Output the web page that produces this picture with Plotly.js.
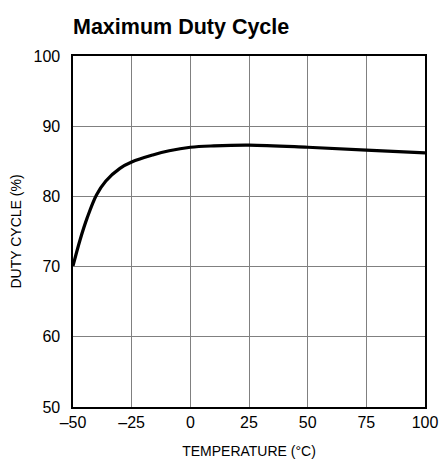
<!DOCTYPE html>
<html>
<head>
<meta charset="utf-8">
<script src="https://cdn.plot.ly/plotly-3.0.1.min.js"></script>
<style>html,body{margin:0;padding:0;background:#fff;}#chart{width:441px;height:459px;}</style>
</head>
<body>
<div id="chart"></div>
<script>
var temperature = [-50, -47, -44, -40, -36, -30, -25, -16, -9, 0, 10, 25, 50, 75, 100];
var dutyCycle = [70.1, 73.8, 76.9, 80.2, 82.2, 84.0, 84.9, 85.9, 86.5, 87.0, 87.2, 87.3, 87.0, 86.6, 86.2];
var xTicks = [-50, -25, 0, 25, 50, 75, 100];
var yTicks = [50, 60, 70, 80, 90, 100];

var fontFam = '"Liberation Sans", Arial, Helvetica, sans-serif';

Plotly.newPlot('chart', [{
  x: temperature,
  y: dutyCycle,
  type: 'scatter',
  mode: 'lines',
  line: {color: '#000', width: 3.2, shape: 'spline', smoothing: 1},
  hoverinfo: 'none'
}], {
  width: 441, height: 459,
  margin: {l: 73, r: 16, t: 56, b: 52},
  paper_bgcolor: '#fff', plot_bgcolor: '#fff',
  showlegend: false,
  font: {family: fontFam, color: '#000', size: 14},
  title: {text: '<b>Maximum Duty Cycle</b>', x: 73/441, xanchor: 'left', y: 1 - 26/459, yanchor: 'middle', font: {family: fontFam, size: 21.5, color: '#000'}},
  xaxis: {
    range: [-50, 100], tickvals: xTicks, ticktext: xTicks.map(function(v){return v < 0 ? '\u2013' + Math.abs(v) : String(v);}),
    showgrid: true, gridcolor: '#808080', gridwidth: 1,
    zeroline: false, showline: true, linecolor: '#000', linewidth: 1.6, mirror: true,
    ticks: '', ticklen: 0, tickfont: {size: 16},
    title: {text: 'TEMPERATURE (°C)', font: {size: 14}, standoff: 16}
  },
  yaxis: {
    range: [50, 100], tickvals: yTicks,
    showgrid: true, gridcolor: '#808080', gridwidth: 1,
    zeroline: false, showline: true, linecolor: '#000', linewidth: 1.6, mirror: true,
    ticks: '', ticklen: 0, tickfont: {size: 16}, ticklabelstandoff: 8,
    title: {text: 'DUTY CYCLE (%)', font: {size: 14}, standoff: 8}
  }
}, {staticPlot: true, displayModeBar: false});
</script>
</body>
</html>
